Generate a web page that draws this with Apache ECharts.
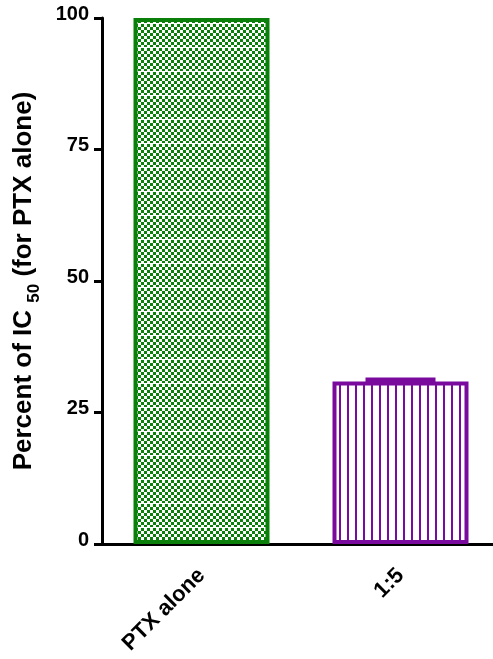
<!DOCTYPE html>
<html><head><meta charset="utf-8">
<script src="https://cdn.jsdelivr.net/npm/echarts@6/dist/echarts.min.js"></script>
<style>html,body{margin:0;padding:0;background:#fff}#c{width:493px;height:659px}</style>
</head><body><div id="c"></div>
<script>
const categories = ['PTX alone', '1:5'];
const values = [100, 30.9];
const errors = [0, 0.3];
const yTicks = [0, 25, 50, 75, 100];

const GREEN = '#0a800a';
const PURPLE = '#7a0a9e';
const FONT = 'Liberation Sans, Arial, sans-serif';

function checker() {
  const c = document.createElement('canvas');
  c.width = 6; c.height = 24;
  const g = c.getContext('2d');
  g.fillStyle = GREEN; g.fillRect(0, 0, 6, 24);
  g.fillStyle = '#fff';
  for (let r = 0; r < 8; r++) {
    for (let k = 0; k < 2; k++) {
      if ((r + k) % 2 === 0) g.fillRect(k * 3, r * 3, 3, 3);
    }
  }
  g.fillRect(0, 23, 6, 1);
  return c;
}
function stripes() {
  const c = document.createElement('canvas');
  c.width = 8; c.height = 8;
  const g = c.getContext('2d');
  g.fillStyle = '#fff'; g.fillRect(0, 0, 8, 8);
  g.fillStyle = PURPLE; g.fillRect(3, 0, 2, 8);
  return c;
}

const chart = echarts.init(document.getElementById('c'));
chart.setOption({
  animation: false,
  grid: { left: 102, top: 18, width: 398, height: 526, outerBoundsMode: 'none', containLabel: false },
  xAxis: {
    type: 'category', data: categories,
    axisLine: { lineStyle: { color: '#000', width: 3 } },
    axisTick: { alignWithLabel: true, length: 8, lineStyle: { width: 3, color: '#000' } },
    axisLabel: { rotate: 45, fontSize: 22, fontWeight: 'bold', color: '#000', fontFamily: FONT, margin: 28 }
  },
  yAxis: {
    type: 'value', min: 0, max: 100, interval: 25,
    name: '{a|Percent of IC }{s|50}{a| (for PTX alone)}',
    nameLocation: 'middle', nameGap: 65, nameRotate: 90,
    nameTextStyle: {
      rich: {
        a: { fontSize: 26, fontWeight: 'bold', color: '#000', fontFamily: FONT, lineHeight: 30, verticalAlign: 'bottom' },
        s: { fontSize: 17, fontWeight: 'bold', color: '#000', fontFamily: FONT, lineHeight: 22, verticalAlign: 'bottom', padding: [0, 0, -6, 0] }
      }
    },
    axisLine: { show: true, lineStyle: { color: '#000', width: 3 } },
    axisTick: { show: true, length: 8, lineStyle: { width: 3, color: '#000' } },
    splitLine: { show: false },
    axisLabel: { fontSize: 20, fontWeight: 'bold', color: '#000', fontFamily: FONT, margin: 13,
      verticalAlign: 'bottom', lineHeight: 8,
      formatter: v => yTicks.includes(v) ? String(v) : '' }
  },
  series: [
    {
      type: 'bar', barWidth: 136,
      data: [
        { value: values[0], itemStyle: { color: { image: checker(), repeat: 'repeat' }, borderColor: GREEN, borderWidth: 4 } },
        { value: values[1], itemStyle: { color: { image: stripes(), repeat: 'repeat' }, borderColor: PURPLE, borderWidth: 4 } }
      ]
    },
    {
      type: 'custom',
      data: values.map((v, i) => [i, v, errors[i]]),
      renderItem: (params, api) => {
        const i = api.value(0), v = api.value(1), e = api.value(2);
        if (!e) return;
        const top = api.coord([i, v + e]);
        return {
          type: 'line', shape: { x1: top[0] - 35, y1: top[1], x2: top[0] + 35, y2: top[1] },
          style: { stroke: PURPLE, lineWidth: 5 }
        };
      },
      z: 5
    }
  ]
});
</script></body></html>
